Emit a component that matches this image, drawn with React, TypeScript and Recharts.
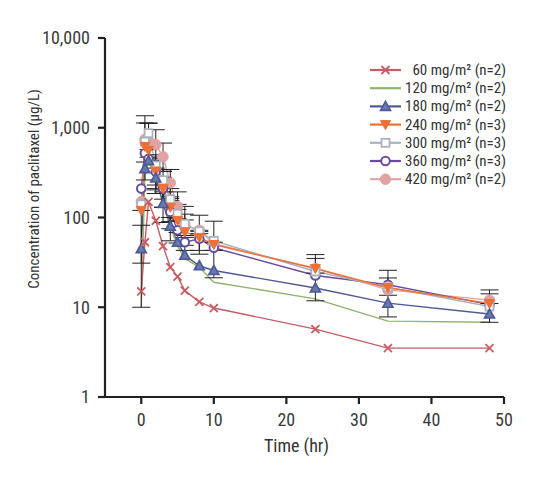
import React from "react";
import {
  ComposedChart,
  Line,
  Scatter,
  ErrorBar,
  XAxis,
  YAxis,
  Legend,
} from "recharts";

const FONT = "'Liberation Sans Narrow', 'Roboto Condensed', Roboto, sans-serif";

// sampling times (hr)
const times = [0, 0.5, 1, 2, 3, 4, 5, 6, 8, 10, 24, 34, 48];

// mean concentrations (ug/L) per dose level
const dose60 = [15, 53, 149, 92, 48, 28, 22, 15.3, 11.5, 9.8, 5.7, 3.5, 3.5];
const dose120 = [10, 300, 420, 300, 170, 80, 48, 35, 28, 19, 12.4, 7, 6.8];
const dose180 = [45, 350, 430, 275, 143, 80, 53, 38, 29, 25.7, 16.4, 11.1, 8.4];
const dose240 = [120, 620, 560, 330, 210, 130, 93, 69, 60, 50, 27, 16.5, 11];
const dose300 = [140, 700, 870, 380, 260, 160, 110, 85, 70, 55, 25, 16.7, 10.2];
const dose360 = [210, 520, 450, 323, 210, 115, 72, 53, 58, 46, 22.6, 17.8, 10.7];
const dose420 = [150, 740, 720, 650, 475, 243, 133, 82, 72, 51, 27, 15.6, 12];

// error bars [minus, plus]
type Err = [number, number] | null;
const err180: Err[] = [[35, 37], null, null, [90, 80], [55, 50], [25, 20], null, null, null, null, null, null, null];
const err240: Err[] = [[89, 0], [358, 510], null, [120, 100], [80, 60], [40, 40], [25, 30], [20, 25], null, null, null, null, null];
const err300: Err[] = [null, null, [300, 260], [150, 120], [100, 80], [60, 50], [35, 30], [22, 24], [27, 0], null, null, null, null];
const err360: Err[] = [null, null, null, [120, 100], [80, 70], [40, 40], [20, 25], [10, 10], [19, 48], [24.7, 45], [10.8, 16], [10, 8], [3.9, 4.9]];
const err420: Err[] = [null, [325, 620], [250, 400], [200, 300], [150, 200], [80, 100], [40, 60], [22, 51], [6, 0], [8, 2], [3, 8], [2, 5.6], [1, 2.1]];

type Kind = "x" | "none" | "tri" | "tridown" | "square" | "circle" | "dot";

const series = [
  { key: "d60", name: "60 mg/m² (n=2)", color: "#c65d63", kind: "x" as Kind, values: dose60, errors: null as Err[] | null },
  { key: "d120", name: "120 mg/m² (n=2)", color: "#8fb46a", kind: "none" as Kind, values: dose120, errors: null },
  { key: "d180", name: "180 mg/m² (n=2)", color: "#4b5996", kind: "tri" as Kind, values: dose180, errors: err180 },
  { key: "d240", name: "240 mg/m² (n=3)", color: "#ee7035", kind: "tridown" as Kind, values: dose240, errors: err240 },
  { key: "d300", name: "300 mg/m² (n=3)", color: "#a9b3bf", kind: "square" as Kind, values: dose300, errors: err300 },
  { key: "d360", name: "360 mg/m² (n=3)", color: "#6a4c9e", kind: "circle" as Kind, values: dose360, errors: err360 },
  { key: "d420", name: "420 mg/m² (n=2)", color: "#e0a2a2", kind: "dot" as Kind, values: dose420, errors: err420 },
];

const data = times.map((t, i) => {
  const row: Record<string, number> = { t };
  series.forEach((s) => (row[s.key] = s.values[i]));
  return row;
});

const Marker = ({ cx, cy, kind, color }: { cx?: number; cy?: number; kind: Kind; color: string }) => {
  if (cx == null || cy == null || kind === "none") return <g />;
  switch (kind) {
    case "x":
      return (
        <path
          d={`M${cx - 4},${cy - 4}L${cx + 4},${cy + 4}M${cx - 4},${cy + 4}L${cx + 4},${cy - 4}`}
          stroke={color}
          strokeWidth={1.8}
          fill="none"
        />
      );
    case "tri":
      return (
        <polygon
          points={`${cx},${cy - 5} ${cx - 5},${cy + 4} ${cx + 5},${cy + 4}`}
          fill="#6a78ad"
          stroke={color}
          strokeWidth={1.6}
        />
      );
    case "tridown":
      return (
        <polygon
          points={`${cx - 5},${cy - 4} ${cx + 5},${cy - 4} ${cx},${cy + 5}`}
          fill={color}
          stroke={color}
          strokeWidth={1}
        />
      );
    case "square":
      return <rect x={cx - 4} y={cy - 4} width={8} height={8} fill="#fff" stroke={color} strokeWidth={1.8} />;
    case "circle":
      return <circle cx={cx} cy={cy} r={4.3} fill="#fff" stroke={color} strokeWidth={2} />;
    default:
      return <circle cx={cx} cy={cy} r={5.2} fill={color} stroke={color} />;
  }
};

const LegendBox = () => (
  <svg width={152} height={140} style={{ display: "block" }}>
    {series.map((s, i) => {
      const y = 15 + i * 18.2;
      return (
        <g key={s.key}>
          <line x1={10} x2={41} y1={y} y2={y} stroke={s.color} strokeWidth={2.2} />
          <Marker cx={25.5} cy={y} kind={s.kind} color={s.color} />
          <text
            x={146}
            y={y}
            textAnchor="end"
            dominantBaseline="central"
            fontFamily={FONT}
            fontSize={15}
            fill="#333"
          >
            {s.name}
          </text>
        </g>
      );
    })}
  </svg>
);

const YLabel = () => (
  <text
    x={26}
    y={181}
    transform="rotate(-90 26 181)"
    textAnchor="middle"
    dominantBaseline="central"
    fontFamily={FONT}
    fontSize={15}
    fill="#333"
  >
    Concentration of paclitaxel (μg/L)
  </text>
);

const App = () => {
  const reversed = [...series].reverse();
  return (
    <ComposedChart
      width={522}
      height={480}
      data={data}
      margin={{ top: 30, right: 26, left: 0, bottom: 0 }}
    >
      <XAxis
        dataKey="t"
        type="number"
        domain={[-5, 50]}
        ticks={[0, 10, 20, 30, 40, 50]}
        allowDataOverflow
        height={91}
        stroke="#231f20"
        strokeWidth={2.2}
        tickSize={7}
        tickMargin={9}
        tick={{ fill: "#3a3a3a", fontSize: 18, fontFamily: FONT }}
        label={{
          value: "Time (hr)",
          position: "insideBottom",
          offset: 36,
          dx: -8,
          fill: "#333",
          fontSize: 18,
          fontFamily: FONT,
        }}
      />
      <YAxis
        type="number"
        scale="log"
        domain={[1, 10000]}
        ticks={[1, 10, 100, 1000, 10000]}
        allowDataOverflow
        width={97}
        stroke="#231f20"
        strokeWidth={2.2}
        tickSize={7}
        tickMargin={8}
        tickFormatter={(v: number) => v.toLocaleString("en-US")}
        tick={{ fill: "#3a3a3a", fontSize: 18, fontFamily: FONT }}
        label={<YLabel />}
      />
      {reversed.map((s) => (
        <Line
          key={s.key}
          dataKey={s.key}
          stroke={s.color}
          strokeWidth={1.4}
          isAnimationActive={false}
          dot={(p: any) => (
            <Marker key={`${s.key}-${p.index}`} cx={p.cx} cy={p.cy} kind={s.kind} color={s.color} />
          )}
          activeDot={false}
        />
      ))}
      {series
        .filter((s) => s.errors)
        .map((s) => (
          <Scatter
            key={`err-${s.key}`}
            data={times
              .map((t, i) => (s.errors![i] ? { t, v: s.values[i], e: s.errors![i] } : null))
              .filter(Boolean)}
            dataKey="v"
            isAnimationActive={false}
            shape={() => <g />}
            legendType="none"
          >
            <ErrorBar dataKey="e" direction="y" width={9} stroke="#222" strokeWidth={1} isAnimationActive={false} />
          </Scatter>
        ))}
      <Legend
        layout="horizontal"
        verticalAlign="middle"
        content={LegendBox}
        wrapperStyle={{ left: 352, top: 47, width: 152 }}
      />
    </ComposedChart>
  );
};

export default App;
